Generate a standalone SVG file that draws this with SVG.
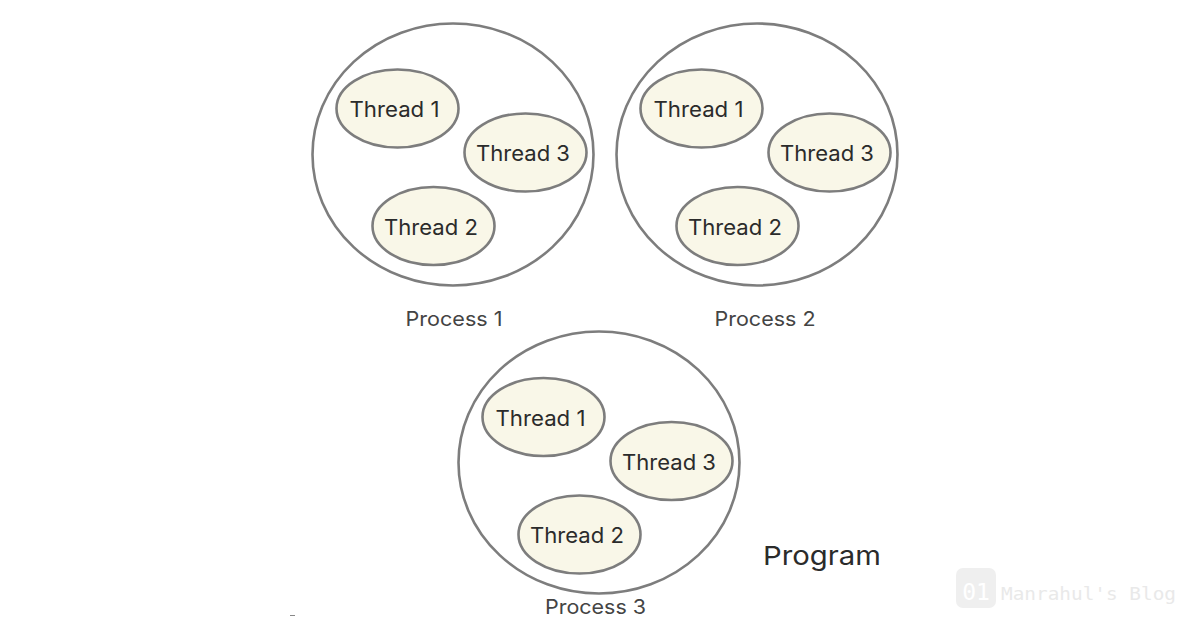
<svg xmlns="http://www.w3.org/2000/svg" width="1200" height="628" viewBox="0 0 1200 628">
<defs>
<style>
.proc{fill:#fff;stroke:#7d7d7d;stroke-width:2.6}
.thr{fill:#f9f7e8;stroke:#7d7d7d;stroke-width:2.6}
text{font-family:"Inter","Liberation Sans",sans-serif;fill:#2b2b2b}
.t{font-size:21px;text-anchor:middle}
.l{font-size:20px;fill:#444;text-anchor:middle}
</style>
<g id="threads">
<ellipse class="thr" cx="397.5" cy="108.5" rx="61" ry="39"/>
<text class="t" x="394.5" y="117" textLength="90" lengthAdjust="spacingAndGlyphs">Thread 1</text>
<ellipse class="thr" cx="525.5" cy="152.5" rx="61" ry="39"/>
<text class="t" x="523" y="161" textLength="94" lengthAdjust="spacingAndGlyphs">Thread 3</text>
<ellipse class="thr" cx="433.5" cy="226" rx="61" ry="39"/>
<text class="t" x="431" y="234.500" textLength="94" lengthAdjust="spacingAndGlyphs">Thread 2</text>
</g>
</defs>
<rect width="1200" height="628" fill="#fff"/>
<g id="process1">
<ellipse class="proc" cx="453" cy="154.500" rx="140.500" ry="131"/>
<use href="#threads"/>
<text class="l" x="454" y="326" textLength="97" lengthAdjust="spacingAndGlyphs">Process 1</text>
</g>
<g id="process2">
<ellipse class="proc" cx="757" cy="154.500" rx="140.500" ry="131"/>
<use href="#threads" x="304"/>
<text class="l" x="765" y="326" textLength="101" lengthAdjust="spacingAndGlyphs">Process 2</text>
</g>
<g id="process3">
<ellipse class="proc" cx="599" cy="462.500" rx="140.500" ry="131"/>
<use href="#threads" x="146" y="308.500"/>
<text class="l" x="595.500" y="614" textLength="101" lengthAdjust="spacingAndGlyphs">Process 3</text>
</g>
<text id="program" x="763" y="565" font-size="26" textLength="118" lengthAdjust="spacingAndGlyphs">Program</text>
<path d="M290 615.500h5" stroke="#888" stroke-width="1" fill="none"/>
<g id="watermark">
<rect x="956" y="568" width="40" height="40" rx="7" fill="#efefef"/>
<text x="976" y="600" font-size="23" text-anchor="middle" style="font-family:'DejaVu Sans Mono',monospace;fill:#fff">01</text>
<text x="1001" y="600" font-size="18" textLength="175" lengthAdjust="spacingAndGlyphs" style="font-family:'DejaVu Sans Mono',monospace;fill:#e9e9e9">Manrahul's Blog</text>
</g>
</svg>
